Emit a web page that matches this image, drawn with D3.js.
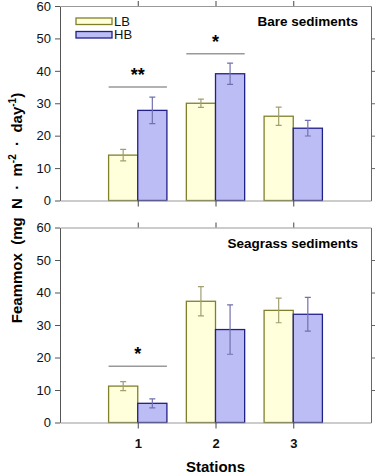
<!DOCTYPE html>
<html>
<head>
<meta charset="utf-8">
<script src="https://cdn.jsdelivr.net/npm/d3@7"></script>
<style>
  body { margin: 0; background: #fff; }
  svg text { font-family: "Liberation Sans", Arial, sans-serif; }
</style>
</head>
<body>
<svg id="mainsvg" width="378" height="475"></svg>
<script>
const stations = ['1', '2', '3'];
const yTicks = [0, 10, 20, 30, 40, 50, 60];

// bare sediments
const bareLB = [14, 30, 26];
const bareLBerr = [1.8, 1.3, 2.8];
const bareHB = [27.8, 39.1, 22.3];
const bareHBerr = [4.1, 3.3, 2.4];
const bareSig = [{ station: '1', y: 35, label: '**' }, { station: '2', y: 45.3, label: '*' }];

// seagrass sediments
const seaLB = [11.2, 37.3, 34.5];
const seaLBerr = [1.4, 4.5, 3.8];
const seaHB = [5.9, 28.6, 33.3];
const seaHBerr = [1.4, 7.6, 5.2];
const seaSig = [{ station: '1', y: 17.3, label: '*' }];

const panels = [
  { title: 'Bare sediments', lb: bareLB, lbErr: bareLBerr, hb: bareHB, hbErr: bareHBerr, sig: bareSig, top: 6, bottom: 200.5, labels: false },
  { title: 'Seagrass sediments', lb: seaLB, lbErr: seaLBerr, hb: seaHB, hbErr: seaHBerr, sig: seaSig, top: 227.5, bottom: 422.5, labels: true }
];

var svg = d3.select('#mainsvg'),
    left = 60, right = 371;

var x = d3.scalePoint()
    .domain(stations)
    .range([left, right])
    .padding(1);
var bw = x.step() * 0.375;

var lbFill = '#ffffdc', lbStroke = '#80802a', lbErrC = '#a0a070';
var hbFill = '#bdbdf5', hbStroke = '#20208a', hbErrC = '#7070b0';

panels.forEach(function (p) {
  var y = d3.scaleLinear().domain([0, 60]).range([p.bottom, p.top]);
  var g = svg.append('g');

  // bars
  var series = [
    { vals: p.lb, err: p.lbErr, off: -bw, fill: lbFill, stroke: lbStroke, ec: lbErrC },
    { vals: p.hb, err: p.hbErr, off: 0, fill: hbFill, stroke: hbStroke, ec: hbErrC }
  ];
  series.forEach(function (s) {
    g.append('g').selectAll('rect')
      .data(stations)
      .enter().append('rect')
      .attr('x', (d, i) => x(d) + s.off)
      .attr('y', (d, i) => y(s.vals[i]))
      .attr('width', bw)
      .attr('height', (d, i) => y(0) - y(s.vals[i]))
      .attr('fill', s.fill)
      .attr('stroke', s.stroke)
      .attr('stroke-width', 1.3);

    var eb = g.append('g').attr('stroke', s.ec).attr('stroke-width', 1.2).attr('fill', 'none');
    stations.forEach(function (d, i) {
      var cx = x(d) + s.off + bw / 2,
          y1 = y(s.vals[i] + s.err[i]), y2 = y(s.vals[i] - s.err[i]);
      eb.append('path')
        .attr('d', 'M' + cx + ',' + y1 + 'V' + y2 +
          'M' + (cx - 3) + ',' + y1 + 'H' + (cx + 3) +
          'M' + (cx - 3) + ',' + y2 + 'H' + (cx + 3));
    });
  });

  // axes
  var axL = g.append('g').attr('transform', 'translate(' + left + ',0)')
    .call(d3.axisLeft(y).tickValues(yTicks).tickSize(5).tickSizeOuter(0).tickPadding(4));
  axL.select('.domain').attr('stroke', '#555');
  axL.selectAll('.tick line').attr('stroke', '#555');
  axL.selectAll('text').attr('font-size', 13).attr('fill', '#111').style('font-family', '"Liberation Sans", Arial, sans-serif');

  var axR = g.append('g').attr('transform', 'translate(' + right + ',0)')
    .call(d3.axisRight(y).tickValues(yTicks.slice(1, 6)).tickSize(4).tickSizeOuter(0).tickFormat(''));
  axR.select('.domain').attr('stroke', '#666');
  axR.selectAll('.tick line').attr('stroke', '#666');

  var axB = g.append('g').attr('transform', 'translate(0,' + p.bottom + ')')
    .call(d3.axisBottom(x).tickSize(6).tickSizeOuter(0).tickPadding(10).tickFormat(p.labels ? null : ''));
  axB.select('.domain').attr('stroke', '#999').attr('stroke-width', 1.2);
  axB.selectAll('.tick line').attr('stroke', '#444');
  axB.selectAll('text').attr('font-size', 13).attr('font-weight', 'bold').attr('fill', '#111')
    .style('font-family', '"Liberation Sans", Arial, sans-serif');

  var axT = g.append('g').attr('transform', 'translate(0,' + p.top + ')')
    .call(d3.axisTop(x).tickSize(5).tickSizeOuter(0).tickFormat(''));
  axT.select('.domain').attr('stroke', '#999').attr('stroke-width', 1.2);
  axT.selectAll('.tick line').attr('stroke', '#444');

  // significance
  p.sig.forEach(function (s) {
    var cx = x(s.station);
    g.append('line')
      .attr('x1', cx - bw).attr('x2', cx + bw)
      .attr('y1', y(s.y)).attr('y2', y(s.y))
      .attr('stroke', '#999').attr('stroke-width', 1.5);
    g.append('text')
      .attr('x', cx).attr('y', y(s.y) - 6)
      .attr('text-anchor', 'middle')
      .attr('font-size', 18).attr('font-weight', 'bold')
      .text(s.label);
  });

  // panel title
  g.append('text')
    .attr('x', 358).attr('y', p.top + 20)
    .attr('text-anchor', 'end')
    .attr('font-size', 13.5).attr('font-weight', 'bold')
    .text(p.title);
});

// legend
var legend = [{ name: 'LB', fill: lbFill, stroke: lbStroke }, { name: 'HB', fill: hbFill, stroke: hbStroke }];
var lg = svg.append('g').attr('transform', 'translate(76,18)');
legend.forEach(function (l, i) {
  lg.append('rect')
    .attr('x', 0).attr('y', i * 13.5)
    .attr('width', 36).attr('height', 6.5)
    .attr('fill', l.fill).attr('stroke', l.stroke).attr('stroke-width', 1.3);
  lg.append('text')
    .attr('x', 38).attr('y', i * 13.5 + 7.5)
    .attr('font-size', 13).attr('fill', '#111')
    .text(l.name);
});

// axis titles
svg.append('text')
  .attr('x', x('2')).attr('y', 472)
  .attr('text-anchor', 'middle')
  .attr('font-size', 15).attr('font-weight', 'bold')
  .text('Stations');

var yt = svg.append('text')
  .attr('transform', 'translate(22,208) rotate(-90)')
  .attr('text-anchor', 'middle')
  .style('white-space', 'pre')
  .attr('font-size', 15).attr('font-weight', 'bold');
yt.append('tspan').text('Feammox  (mg  N  ·  m');
yt.append('tspan').attr('dy', -6).attr('font-size', 10).text('-2');
yt.append('tspan').attr('dy', 6).text('  ·  day');
yt.append('tspan').attr('dy', -6).attr('font-size', 10).text('-1');
yt.append('tspan').attr('dy', 6).text(')');
</script>
</body>
</html>
